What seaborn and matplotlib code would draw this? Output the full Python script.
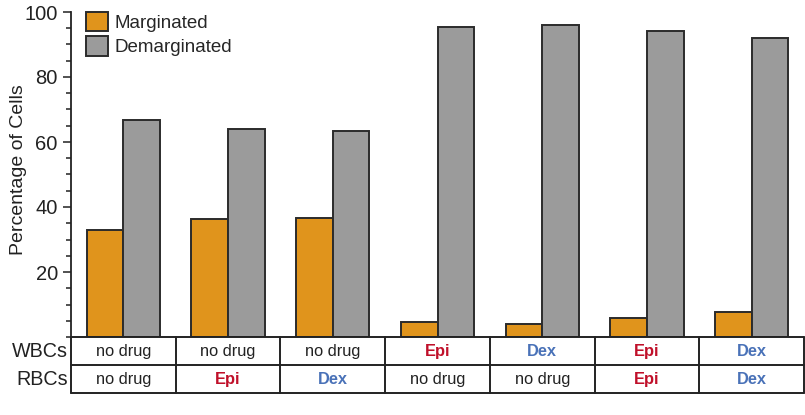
import matplotlib.pyplot as plt
from matplotlib.ticker import MultipleLocator
import seaborn as sns
import pandas as pd

# values
conditions = ["c1", "c2", "c3", "c4", "c5", "c6", "c7"]
marginated = [32.8, 36.3, 36.6, 4.5, 3.9, 5.8, 7.7]
demarginated = [66.8, 64.0, 63.5, 95.4, 96.0, 94.2, 92.0]
wbc_labels = ["no drug", "no drug", "no drug", "Epi", "Dex", "Epi", "Dex"]
rbc_labels = ["no drug", "Epi", "Dex", "no drug", "no drug", "Epi", "Dex"]

df = pd.DataFrame({
    "cond": conditions * 2,
    "pct": marginated + demarginated,
    "state": ["Marginated"] * len(conditions) + ["Demarginated"] * len(conditions),
})

sns.set_style("ticks")
plt.rcParams['font.family'] = ['Liberation Sans', 'DejaVu Sans']

fig = plt.figure(figsize=(8.05, 4.15), dpi=100)
ax = fig.add_axes([71 / 805, 78 / 415, 733 / 805, 325 / 415])
tab = fig.add_axes([71 / 805, 22 / 415, 733 / 805, 56 / 415])

sns.barplot(data=df, x="cond", y="pct", hue="state", ax=ax, width=0.7,
            palette=["#e0941c", "#9b9b9b"], edgecolor="#2b2b2b", linewidth=1.4,
            saturation=1)

ax.set_xlim(-0.5, 6.5)
ax.set_ylim(0, 100)
ax.set_yticks([20, 40, 60, 80, 100])
ax.yaxis.set_minor_locator(MultipleLocator(5))
ax.tick_params(axis="y", which="major", length=6, width=1.1, labelsize=14.5, colors="#222222")
ax.tick_params(axis="y", which="minor", length=3.5, width=1.1, colors="#222222")
ax.set_xticks([])
ax.set_xlabel("")
ax.set_ylabel("Percentage of Cells", fontsize=14, color="#222222")
ax.yaxis.set_label_coords(-0.06, 0.515)
for s in ["top", "right", "bottom"]:
    ax.spines[s].set_visible(False)
ax.spines["left"].set_color("#222222")
ax.spines["left"].set_linewidth(1.3)

leg = ax.legend(loc="upper left", bbox_to_anchor=(0.005, 1.035), frameon=False,
                fontsize=13.5, handlelength=1.2, handleheight=1.2,
                handletextpad=0.3, labelspacing=0.25, borderaxespad=0.2)

# table below the bars
tab.set_xlim(-0.5, 6.5)
tab.set_ylim(0, 2)
tab.axis("off")
lc = "#222222"
for y in [2, 1, 0]:
    tab.plot([-0.5, 6.5], [y, y], color=lc, lw=1.4, clip_on=False)
for i in range(len(conditions) + 1):
    tab.plot([i - 0.5, i - 0.5], [0, 2], color=lc, lw=1.4, clip_on=False)

colors = {"no drug": "#222222", "Epi": "#c0102a", "Dex": "#4a72b8"}
for i, (w, r) in enumerate(zip(wbc_labels, rbc_labels)):
    for lab, y in [(w, 1.5), (r, 0.5)]:
        tab.text(i, y, lab, ha="center", va="center", fontsize=11.8,
                 color=colors[lab], fontweight="normal" if lab == "no drug" else "bold")

tab.text(-0.53, 1.5, "WBCs", ha="right", va="center", fontsize=14.2, color="#222222")
tab.text(-0.53, 0.5, "RBCs", ha="right", va="center", fontsize=14.2, color="#222222")

fig.savefig("out.png", dpi=100)
